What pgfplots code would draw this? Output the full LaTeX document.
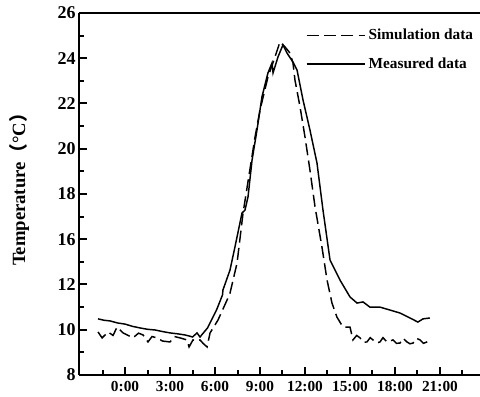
\documentclass[border=0pt]{standalone}
\usepackage{pgfplots}
\pgfplotsset{compat=1.18}
\usepackage{fontspec}
\setmainfont{Liberation Serif}
\newfontfamily\cjk{Noto Sans CJK SC}
\begin{document}
\begin{tikzpicture}
\begin{axis}[name=ax,
  scale only axis, width=300.75pt, height=271.5pt,
  xmin=-3.07, xmax=23.67, ymin=8, ymax=24,
  axis x line*=bottom, axis y line*=left,
  axis line style={line width=2.2pt},
  tick align=inside,
  xtick={0,3,...,21},
  xticklabels={0:00,3:00,6:00,9:00,12:00,15:00,18:00,21:00},
  minor xtick={-1.5,1.5,4.5,7.5,10.5,13.5,16.5,19.5,22.5},
  ytick={8,10,...,24},
  yticklabels={8,10,12,16,18,20,22,24,26},
  minor ytick={9,11,...,23},
  major tick length=6pt, minor tick length=4pt,
  every tick/.style={line width=1.5pt, black},
  /pgf/number format/assume math mode=true,
  xticklabel style={font=\fontsize{11.5}{12}\selectfont\bfseries, yshift=-1pt},
  yticklabel style={font=\fontsize{13.5}{14}\selectfont\bfseries, xshift=1pt},
  ylabel={Temperature{\cjk （}°C{\cjk ）}},
  every axis y label/.style={at={(rel axis cs:0,0.525)}, rotate=90, anchor=center, yshift=45pt,
    font=\fontsize{14}{15}\selectfont\bfseries},
  legend style={draw=none, fill=none, at={(1,1)}, anchor=north east, xshift=0pt, yshift=-8pt,
    font=\fontsize{11.5}{12}\selectfont\bfseries, row sep=8pt, cells={anchor=west}},
  legend image code/.code={\draw[#1] (0pt,0pt) -- (44pt,0pt);},
]
\addplot[black, line width=1.1pt, dash pattern=on 9pt off 4pt] coordinates {
(-1.8,9.90) (-1.53,9.64) (-1.13,9.90) (-0.8,9.75) (-0.53,10.12) (-0.13,9.86) (0.2,9.75) (0.53,9.64)
(0.9,9.85) (1.2,9.77) (1.53,9.46) (1.8,9.70) (2.13,9.64) (2.5,9.50) (3.0,9.46) (3.3,9.70) (3.67,9.64)
(4.13,9.55) (4.27,9.24) (4.53,9.55) (4.8,9.50) (5.0,9.55) (5.2,9.40) (5.47,9.24) (5.67,9.86)
(6.2,10.43) (6.8,11.31) (7.0,11.62) (7.47,12.95) (7.87,15.16) (8.27,16.84) (8.67,18.52)
(9.0,19.71) (9.53,21.17) (10.0,22.06) (10.33,22.72) (10.67,22.50) (11.0,22.23) (11.2,21.79)
(11.33,21.04) (11.67,19.85) (12.0,18.52) (12.33,17.06) (12.67,15.43) (13.13,13.66) (13.47,12.2)
(13.8,11.18) (14.13,10.56) (14.53,10.12) (15.0,10.12) (15.2,9.55) (15.45,9.75) (15.67,9.64)
(15.9,9.45) (16.13,9.46) (16.35,9.65) (16.53,9.55) (16.8,9.42) (17.0,9.46) (17.2,9.65) (17.47,9.46)
(17.87,9.55) (18.1,9.40) (18.33,9.41) (18.55,9.62) (18.8,9.46) (19.0,9.38) (19.2,9.41) (19.45,9.62)
(19.67,9.55) (19.9,9.40) (20.13,9.46) (20.33,9.55)
};
\addlegendentry{Simulation data}
\addplot[black, line width=1.1pt] coordinates {
(-1.8,10.48) (-1.4,10.42) (-1.0,10.39) (-0.5,10.30) (0,10.25) (0.5,10.15) (1.0,10.08) (1.5,10.02)
(2.0,9.99) (2.5,9.92) (3.0,9.86) (3.5,9.82) (4.0,9.77) (4.3,9.72) (4.5,9.68) (4.8,9.86) (5.0,9.68)
(5.5,10.08) (6.1,10.87) (6.5,11.54) (6.53,11.76) (7.0,12.64) (7.33,13.66) (7.8,15.16) (8.0,15.29)
(8.2,15.87) (8.47,17.5) (8.8,18.83) (9.13,20.29) (9.53,21.35) (9.8,21.79) (9.87,21.35) (10.2,22.06)
(10.53,22.59) (10.8,22.23) (11.2,21.83) (11.47,21.48) (11.87,20.15) (12.33,18.83) (12.8,17.37)
(13.2,15.29) (13.67,13.08) (14.33,12.2) (15.0,11.45) (15.47,11.18) (15.87,11.23) (16.33,11.0)
(17.0,11.0) (17.67,10.87) (18.33,10.74) (19.0,10.52) (19.53,10.34) (19.87,10.48) (20.33,10.52)
};
\addlegendentry{Measured data}
\draw[line width=2.2pt] (rel axis cs:0,1) -- (rel axis cs:1,1);
\end{axis}
\pgfresetboundingbox
\useasboundingbox ([xshift=-59.25pt,yshift=-16.5pt]ax.south west) rectangle ([yshift=9.75pt]ax.north east);
\end{tikzpicture}
\end{document}
